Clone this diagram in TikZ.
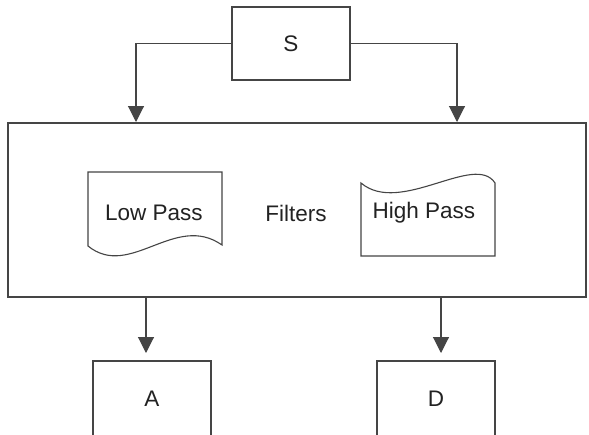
\documentclass[tikz,border=0pt]{standalone}
\usepackage{fontspec}
\setmainfont{Liberation Sans}
\usetikzlibrary{arrows.meta}
\definecolor{linec}{HTML}{454545}
\definecolor{textc}{HTML}{222222}
\tikzset{
  x=1pt, y=-1pt,
  every node/.style={text=textc, font=\fontsize{22.5}{27}\selectfont},
  box/.style={draw=linec, line width=1.1pt, fill=white, inner sep=0pt},
  conn/.style={draw=linec, line width=1.1pt, -{Triangle[length=16pt,width=16pt]}},
  shapeline/.style={draw=linec, line width=1.1pt}
}
\begin{document}
\begin{tikzpicture}
\clip (0,0) rectangle (589,434);
\fill[white] (0,0) rectangle (589,434);
% big box
\node[box, minimum width=578pt, minimum height=174pt] (F) at (297,210) {};
% source
\node[box, minimum width=118pt, minimum height=73pt] (S) at (291,43.5) {S};
% outputs
\node[box, minimum width=118pt, minimum height=76pt] (A) at (152,399) {A};
\node[box, minimum width=118pt, minimum height=76pt] (D) at (436,399) {D};
% low pass document shape
\draw[shapeline] (88,172) -- (88,246) .. controls (130,280) and (175,212) .. (222,245) -- (222,172) -- cycle;
\node (LP) at (154,213) {Low Pass};
% high pass shape
\draw[shapeline] (361,183) .. controls (400,216) and (475,152) .. (495,183) -- (495,256) -- (361,256) -- cycle;
\node (HP) at (424,213) {High Pass};
\node (FT) at (296,213) {Filters};
% connectors
\coordinate (tl) at (136,122);
\coordinate (tr) at (457,122);
\draw[conn] (S.west) -| (tl);
\draw[conn] (S.east) -| (tr);
\coordinate (bl0) at (146,297);
\coordinate (bl) at (146,353);
\coordinate (br0) at (441,297);
\coordinate (br) at (441,353);
\draw[conn] (bl0) -- (bl);
\draw[conn] (br0) -- (br);
\end{tikzpicture}
\end{document}
